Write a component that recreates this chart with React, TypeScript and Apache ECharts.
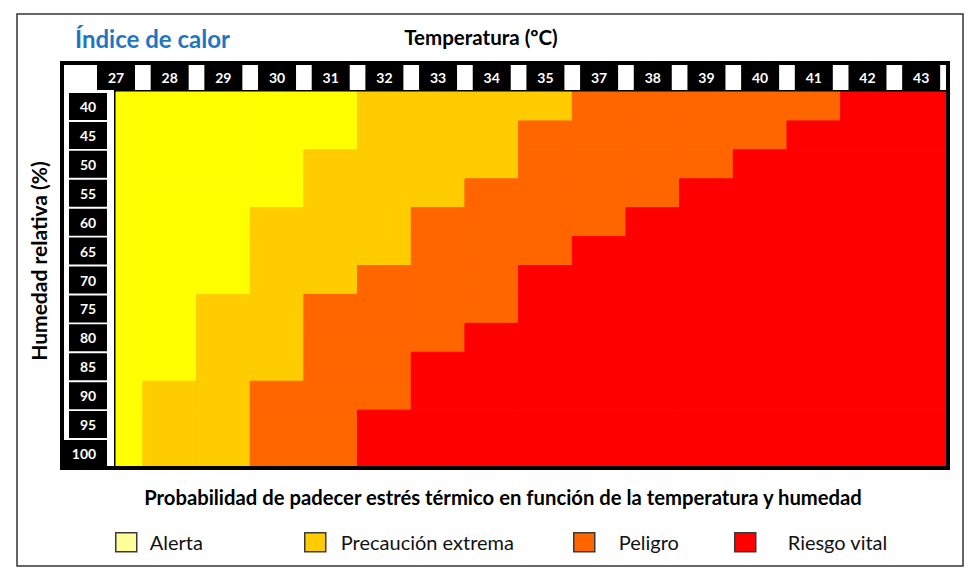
import React, { useEffect, useRef } from "react";
import * as echarts from "echarts";

// Temperature columns (ºC) and relative humidity rows (%)
const temperatures = ["27", "28", "29", "30", "31", "32", "33", "34", "35", "37", "38", "39", "40", "41", "42", "43"];
const humidities = ["40", "45", "50", "55", "60", "65", "70", "75", "80", "85", "90", "95", "100"];

// Risk categories
const riskNames = ["Alerta", "Precaución extrema", "Peligro", "Riesgo vital"];
const riskColors = ["#ffff00", "#ffcc00", "#ff6600", "#ff0000"];
const legendColors = ["#ffff99", "#ffcc00", "#ff6600", "#ff0000"];

// Risk level (1..4) for each humidity row (top to bottom) and temperature column
const riskLevels = [
  [1, 1, 1, 1, 1, 2, 2, 2, 2, 3, 3, 3, 3, 3, 4, 4],
  [1, 1, 1, 1, 1, 2, 2, 2, 3, 3, 3, 3, 3, 4, 4, 4],
  [1, 1, 1, 1, 2, 2, 2, 2, 3, 3, 3, 3, 4, 4, 4, 4],
  [1, 1, 1, 1, 2, 2, 2, 3, 3, 3, 3, 4, 4, 4, 4, 4],
  [1, 1, 1, 2, 2, 2, 3, 3, 3, 3, 4, 4, 4, 4, 4, 4],
  [1, 1, 1, 2, 2, 2, 3, 3, 3, 4, 4, 4, 4, 4, 4, 4],
  [1, 1, 1, 2, 2, 3, 3, 3, 4, 4, 4, 4, 4, 4, 4, 4],
  [1, 1, 2, 2, 3, 3, 3, 3, 4, 4, 4, 4, 4, 4, 4, 4],
  [1, 1, 2, 2, 3, 3, 3, 4, 4, 4, 4, 4, 4, 4, 4, 4],
  [1, 1, 2, 2, 3, 3, 4, 4, 4, 4, 4, 4, 4, 4, 4, 4],
  [1, 2, 2, 3, 3, 3, 4, 4, 4, 4, 4, 4, 4, 4, 4, 4],
  [1, 2, 2, 3, 3, 4, 4, 4, 4, 4, 4, 4, 4, 4, 4, 4],
  [1, 2, 2, 3, 3, 4, 4, 4, 4, 4, 4, 4, 4, 4, 4, 4],
];

// Legend item placement (left edge of swatch, gap to its text, lift of the text)
const legendLayout = [
  { left: 115, gap: 8, lift: 0 },
  { left: 304, gap: 10, lift: 0 },
  { left: 573, gap: 19, lift: 0 },
  { left: 734, gap: 27, lift: 3 },
];

const FONT = "Lato, 'Open Sans', sans-serif";

function cellsFor(level: number) {
  const out: number[][] = [];
  riskLevels.forEach((row, r) =>
    row.forEach((v, c) => {
      if (v === level) out.push([c, r]);
    })
  );
  return out;
}

function renderCell(color: string) {
  return (params: any, api: any) => {
    const x = api.value(0);
    const y = api.value(1);
    const a = api.coord([x - 0.5, y]);
    const b = api.coord([x + 0.5, y]);
    const h = api.size([0, 1])[1];
    const cs = params.coordSys;
    const shape = echarts.graphic.clipRectByRect(
      { x: a[0], y: a[1] - h / 2, width: b[0] - a[0], height: h },
      { x: cs.x, y: cs.y, width: cs.width, height: cs.height }
    );
    if (!shape) return null;
    return {
      type: "rect",
      shape,
      style: { fill: color, stroke: color, lineWidth: 1 },
    };
  };
}

export default function App() {
  const ref = useRef<HTMLDivElement>(null);

  useEffect(() => {
    if (!ref.current) return;
    const chart = echarts.init(ref.current, undefined, { renderer: "svg" });

    const labelBox = {
      backgroundColor: "#000",
      color: "#fff",
      fontFamily: FONT,
      fontWeight: "bold",
      fontSize: 14,
      align: "center",
    };

    chart.setOption({
      animation: false,
      backgroundColor: "#fff",
      grid: {
        left: 116,
        top: 92,
        width: 832,
        height: 376,
        show: true,
        borderColor: "#000",
        borderWidth: 4,
        backgroundColor: "transparent",
      },
      xAxis: {
        type: "value",
        position: "top",
        min: 0,
        max: 15.5,
        interval: 1,
        axisLine: { show: false },
        axisTick: { show: false },
        splitLine: { show: false },
        axisLabel: {
          margin: 2,
          showMaxLabel: false,
          formatter: (v: number) =>
            Number.isInteger(v) && temperatures[v] ? `{t|${temperatures[v]}}` : "",
          rich: {
            t: { ...labelBox, width: 38, height: 25, lineHeight: 25 },
          },
        },
      },
      yAxis: {
        type: "category",
        inverse: true,
        data: humidities,
        axisLine: { show: false },
        axisTick: { show: false },
        splitLine: { show: false },
        axisLabel: {
          margin: 9,
          formatter: (v: string) => (v === "100" ? `{w|${v}}` : `{n|${v}}`),
          rich: {
            n: { ...labelBox, width: 38, height: 27, lineHeight: 27 },
            w: { ...labelBox, width: 46, height: 27, lineHeight: 27 },
          },
        },
      },
      legend: riskNames.map((name, i) => ({
        left: legendLayout[i].left,
        top: 532,
        padding: 0,
        itemWidth: 21,
        itemHeight: 19,
        icon: "rect",
        selectedMode: false,
        data: [
          {
            name,
            itemStyle: {
              color: legendColors[i],
              borderColor: "#3a3a3a",
              borderWidth: 1.5,
            },
          },
        ],
        textStyle: {
          fontFamily: FONT,
          fontSize: 20,
          color: "#111",
          padding: [0, 0, legendLayout[i].lift * 2, legendLayout[i].gap],
        },
      })),
      series: riskNames.map((name, i) => ({
        type: "custom",
        name,
        coordinateSystem: "cartesian2d",
        itemStyle: { color: riskColors[i] },
        renderItem: renderCell(riskColors[i]),
        encode: { x: 0, y: 1 },
        data: cellsFor(i + 1),
        silent: true,
      })),
      graphic: [
        {
          type: "rect",
          shape: { x: 17, y: 14, width: 946, height: 552 },
          style: { fill: "none", stroke: "#333", lineWidth: 1.5 },
        },
        {
          type: "rect",
          shape: { x: 62, y: 63, width: 886, height: 405 },
          style: { fill: "none", stroke: "#000", lineWidth: 4 },
          z: 10,
        },
        {
          type: "text",
          x: 75,
          y: 38,
          style: {
            text: "Índice de calor",
            fill: "#1f77c2",
            fontFamily: FONT,
            fontWeight: "bold",
            fontSize: 24,
            verticalAlign: "middle",
          },
        },
        {
          type: "text",
          x: 481,
          y: 37,
          style: {
            text: "Temperatura (ºC)",
            fill: "#000",
            fontFamily: FONT,
            fontWeight: "bold",
            fontSize: 20.5,
            align: "center",
            verticalAlign: "middle",
          },
        },
        {
          type: "text",
          x: 38,
          y: 261,
          rotation: Math.PI / 2,
          style: {
            text: "Humedad relativa (%)",
            fill: "#000",
            fontFamily: FONT,
            fontWeight: "bold",
            fontSize: 21,
            align: "center",
            verticalAlign: "middle",
          },
        },
        {
          type: "text",
          x: 503,
          y: 497,
          style: {
            text: "Probabilidad de padecer estrés térmico en función de la temperatura y humedad",
            fill: "#000",
            fontFamily: FONT,
            fontWeight: "bold",
            fontSize: 20.25,
            align: "center",
            verticalAlign: "middle",
          },
        },
      ],
    });

    return () => chart.dispose();
  }, []);

  return (
    <div
      ref={ref}
      style={{ position: "fixed", left: 0, top: 0, width: 979, height: 576, background: "#fff" }}
    />
  );
}
